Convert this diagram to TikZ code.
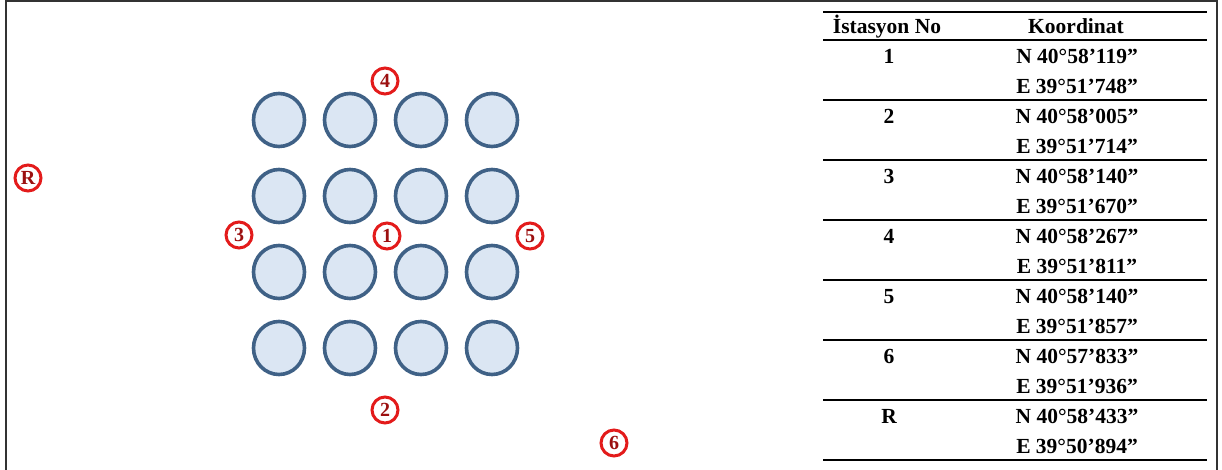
\documentclass[tikz,border=0pt]{standalone}
\usepackage{fontspec}
\setmainfont{Liberation Serif}
\usetikzlibrary{shapes.geometric}
\definecolor{ring}{HTML}{E31B1B}
\definecolor{num}{HTML}{9C1010}
\definecolor{edge}{HTML}{3F6186}
\definecolor{leaf}{HTML}{DBE6F3}
\begin{document}
\begin{tikzpicture}[x=1pt,y=-1pt,tr/.style={ellipse,draw=edge,line width=3.6pt,fill=leaf,minimum width=51pt,minimum height=53pt,inner sep=0pt},st/.style={circle,draw=ring,line width=3pt,fill=white,minimum size=26pt,inner sep=0pt,text=num,font=\bfseries\fontsize{20}{20}\selectfont},tx/.style={font=\bfseries\fontsize{21.5}{24}\selectfont,text height=15pt,text depth=0pt,inner sep=0pt},rl/.style={line width=1.6pt}]
\useasboundingbox (0,0) rectangle (1222,470);
\draw[line width=2pt,black!80](6,470)--(6,1)--(1217,1)--(1217,470);
% parsel
\foreach \c [count=\j] in {279,350,421,492}{\foreach \r [count=\i] in {120,196,272,348}{\node[tr](t\i\j) at (\c,\r){};}}
\node[st](s1) at (387,236){1};\node[st](s2) at (385,410){2};\node[st](s3) at (239,235){3};
\node[st](s4) at (385,81){4};\node[st](s5) at (530,236){5};\node[st](s6) at (614,443){6};
\node[st](sR) at (28,178){R};
% tablo
\draw[rl](823,12)--(1207,12);
\node[tx](h1) at (887,26){İstasyon No};\node[tx](h2) at (1076,26){Koordinat};
\foreach \s/\n/\e [count=\i] in {1/{N 40°58’119”}/{E 39°51’748”},2/{N 40°58’005”}/{E 39°51’714”},3/{N 40°58’140”}/{E 39°51’670”},4/{N 40°58’267”}/{E 39°51’811”},5/{N 40°58’140”}/{E 39°51’857”},6/{N 40°57’833”}/{E 39°51’936”},R/{N 40°58’433”}/{E 39°50’894”}}{
\pgfmathsetmacro{\y}{40+60*(\i-1)}
\draw[rl](823,\y)--(1207,\y);
\node[tx](no\i) at (889,\y+16){\s};\node[tx](n\i) at (1077,\y+16){\n};\node[tx](e\i) at (1077,\y+46){\e};}
\draw[rl](823,460)--(1207,460);
\end{tikzpicture}
\end{document}
